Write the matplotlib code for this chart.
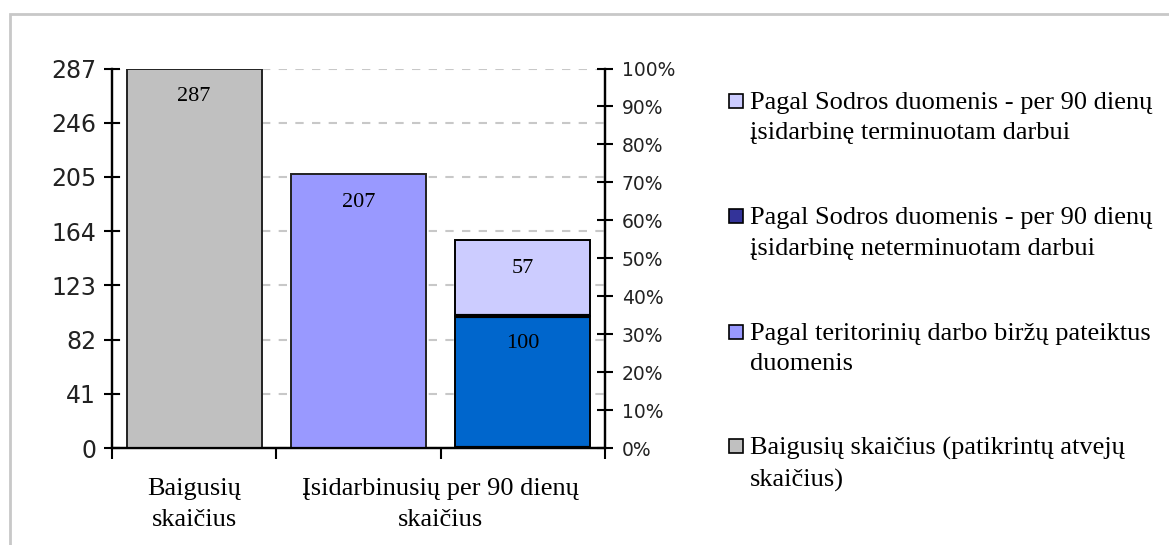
import matplotlib

matplotlib.use("Agg")
import matplotlib.pyplot as plt  # noqa: E402
from matplotlib.patches import Rectangle  # noqa: E402
from matplotlib.ticker import PercentFormatter  # noqa: E402

# data
categories = ["Baigusių\nskaičius", "Įsidarbinusių per 90 dienų\nskaičius"]
baigusiu = [287]
teritoriniu = [207]
sodra_neterm = [100]
sodra_term = [57]
left_ticks = [0, 41, 82, 123, 164, 205, 246, 287]
right_ticks = [0.0, 0.1, 0.2, 0.3, 0.4, 0.5, 0.6, 0.7, 0.8, 0.9, 1.0]
legend_labels = [
    "Pagal Sodros duomenis - per 90 dienų\nįsidarbinę terminuotam darbui",
    "Pagal Sodros duomenis - per 90 dienų\nįsidarbinę neterminuotam darbui",
    "Pagal teritorinių darbo biržų pateiktus\nduomenis",
    "Baigusių skaičius (patikrintų atvejų\nskaičius)",
]
legend_colors = ["#CCCCFF", "#333399", "#9999FF", "#C0C0C0"]

W, H = 1169, 545
SERIF = "Liberation Serif"
SANS = "DejaVu Sans"

fig = plt.figure(figsize=(W / 100, H / 100), dpi=100)

# light grey frame round the chart
fig.add_artist(Rectangle((10 / W, -0.05), 1.1, 1 - 14 / H + 0.05, transform=fig.transFigure,
                         fill=False, edgecolor="#C8C8C8", lw=2))

ax = fig.add_axes([112 / W, (H - 448) / H, (605 - 112) / W, (448 - 68.5) / H])
ax.set_xlim(0, 3)
ax.set_ylim(0, 287)

bw = 0.82
ax.bar([0.5], baigusiu, bw, color="#C0C0C0", edgecolor="#222222", lw=1.4, zorder=3)
ax.bar([1.5], teritoriniu, bw, color="#9999FF", edgecolor="#222222", lw=1.4, zorder=3)
ax.bar([2.5], sodra_neterm, bw, color="#0066CC", edgecolor="black", lw=1.4, zorder=3)
ax.bar([2.5], sodra_term, bw, bottom=sodra_neterm, color="#CCCCFF", edgecolor="black",
       lw=1.4, zorder=3)
# heavy lines at the bottom and top of the dark segment, as in the original
ax.hlines([0, sodra_neterm[0]], 2.5 - bw / 2, 2.5 + bw / 2, color="black", lw=3, zorder=4)

# value labels just under each bar top
vals = [(0.5, baigusiu[0], baigusiu[0]), (1.5, teritoriniu[0], teritoriniu[0]),
        (2.5, sodra_neterm[0] + sodra_term[0], sodra_term[0]), (2.5, sodra_neterm[0], sodra_neterm[0])]
for x, top, v in vals:
    ax.annotate(f"{v}", (x, top), xytext=(0, -20), textcoords="offset points",
                ha="center", va="center", fontsize=16, family=SERIF, zorder=5)

ax.set_yticks(left_ticks)
ax.set_yticklabels([str(t) for t in left_ticks], family=SANS, fontsize=17, color="#222222")
ax.yaxis.grid(True, ls=(0, (4, 4)), color="#C8C8C8", lw=1.5, zorder=0)
ax.set_axisbelow(True)
ax.tick_params(axis="y", direction="inout", length=11, width=1.5, pad=6)

ax.set_xticks([0, 1, 2, 3])
ax.set_xticklabels([])
ax.tick_params(axis="x", direction="out", length=8, width=1.5)

for s in ["left", "bottom", "right"]:
    ax.spines[s].set_linewidth(1.6)
ax.spines["top"].set_visible(False)

for x, lab in zip([0.5, 2.0], categories):
    ax.text(x, -0.08, lab, transform=ax.get_xaxis_transform(), ha="center", va="top",
            fontsize=19, family=SERIF, linespacing=1.5)

ax2 = ax.twinx()
ax2.set_ylim(0, 1)
ax2.set_yticks(right_ticks)
ax2.yaxis.set_major_formatter(PercentFormatter(1.0, decimals=0))
for t in ax2.get_yticklabels():
    t.set_family(SANS)
    t.set_fontsize(13.5)
    t.set_color("#222222")
ax2.tick_params(axis="y", direction="inout", length=12, width=1.5, pad=6)
for s in ["left", "bottom", "right"]:
    ax2.spines[s].set_linewidth(1.6)
ax2.spines["top"].set_visible(False)

# legend, drawn by hand to keep Excel's wide spacing
centers = [101, 216, 332, 446]
for yc, col, lab in zip(centers, legend_colors, legend_labels):
    fig.add_artist(Rectangle((729 / W, (H - yc - 7) / H), 14 / W, 14 / H,
                             transform=fig.transFigure, facecolor=col,
                             edgecolor="black", lw=1.2))
    fig.text(750 / W, (H - yc + 9) / H, lab, ha="left", va="top",
             fontsize=19, family=SERIF, linespacing=1.5)

fig.savefig("out.png", dpi=100)
